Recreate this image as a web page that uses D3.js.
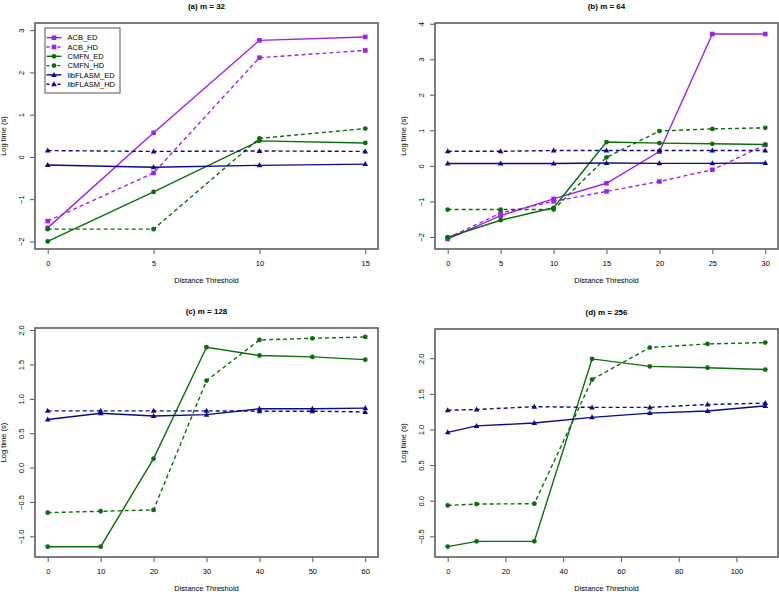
<!DOCTYPE html>
<html><head><meta charset="utf-8">
<script src="https://cdn.jsdelivr.net/npm/d3@7"></script>
<style>body{margin:0;background:#fff}svg{display:block;font-family:"Liberation Sans",Arial,sans-serif}</style>
</head><body><svg id="c" width="779" height="592"></svg>
<script>
// ---------- data ----------
const seriesNames = ["ACB_ED","ACB_HD","CMFN_ED","CMFN_HD","libFLASM_ED","libFLASM_HD"];
const panelTitles = ["(a) m = 32","(b) m = 64","(c) m = 128","(d) m = 256"];

const xA = [0,5,10,15];
const aACB_ED = [-1.68,0.57,2.76,2.84];
const aACB_HD = [-1.52,-0.38,2.35,2.52];
const aCMFN_ED = [-2.0,-0.83,0.38,0.33];
const aCMFN_HD = [-1.71,-1.71,0.44,0.67];
const aLIB_ED = [-0.19,-0.245,-0.2,-0.17];
const aLIB_HD = [0.15,0.13,0.14,0.13];

const xB = [0,5,10,15,20,25,30];
const bACB_ED = [-2.06,-1.40,-0.93,-0.49,0.40,3.71,3.71];
const bACB_HD = [-2.03,-1.33,-1.0,-0.72,-0.44,-0.11,0.59];
const bCMFN_ED = [-2.01,-1.53,-1.18,0.67,0.64,0.62,0.60];
const bCMFN_HD = [-1.23,-1.23,-1.23,0.24,0.98,1.04,1.07];
const bLIB_ED = [0.065,0.065,0.065,0.08,0.07,0.07,0.08];
const bLIB_HD = [0.41,0.41,0.43,0.43,0.43,0.43,0.43];

const xC = [0,10,20,30,40,50,60];
const cCMFN_ED = [-1.15,-1.15,0.13,1.75,1.63,1.61,1.57];
const cCMFN_HD = [-0.655,-0.635,-0.615,1.265,1.856,1.88,1.90];
const cLIB_ED = [0.70,0.79,0.75,0.77,0.855,0.855,0.865];
const cLIB_HD = [0.825,0.825,0.825,0.825,0.82,0.82,0.81];

const xD = [0,10,30,50,70,90,110];
const dCMFN_ED = [-0.644,-0.57,-0.57,1.99,1.885,1.866,1.84];
const dCMFN_HD = [-0.066,-0.047,-0.042,1.70,2.15,2.20,2.22];
const dLIB_ED = [0.96,1.05,1.09,1.17,1.23,1.26,1.33];
const dLIB_HD = [1.27,1.28,1.32,1.31,1.31,1.35,1.37];

const xTicksA = [0,5,10,15], yTicksA = [-2,-1,0,1,2,3];
const xTicksB = [0,5,10,15,20,25,30], yTicksB = [-2,-1,0,1,2,3,4];
const xTicksC = [0,10,20,30,40,50,60], yTicksC = [-1.0,-0.5,0.0,0.5,1.0,1.5,2.0];
const xTicksD = [0,20,40,60,80,100], yTicksD = [-0.5,0.0,0.5,1.0,1.5,2.0];

// ---------- styles ----------
const style = {
  ACB_ED:{color:"#a020f0",dash:null,shape:"square"},
  ACB_HD:{color:"#a020f0",dash:"4,3",shape:"square"},
  CMFN_ED:{color:"#0a6e0a",dash:null,shape:"circle"},
  CMFN_HD:{color:"#0a6e0a",dash:"4,3",shape:"circle"},
  libFLASM_ED:{color:"#0a0a8c",dash:null,shape:"triangle"},
  libFLASM_HD:{color:"#0a0a8c",dash:"4,3",shape:"triangle"}
};

const panels = [
  {title:panelTitles[0], x:xA, series:{ACB_ED:aACB_ED,ACB_HD:aACB_HD,CMFN_ED:aCMFN_ED,CMFN_HD:aCMFN_HD,libFLASM_ED:aLIB_ED,libFLASM_HD:aLIB_HD},
   xd:[-0.6,15.6], yd:[-2.18,3.17], xt:xTicksA, yt:yTicksA, yf:d=>d3.format("d")(d), box:[35,378,23,249], legend:true},
  {title:panelTitles[1], x:xB, series:{ACB_ED:bACB_ED,ACB_HD:bACB_HD,CMFN_ED:bCMFN_ED,CMFN_HD:bCMFN_HD,libFLASM_ED:bLIB_ED,libFLASM_HD:bLIB_HD},
   xd:[-1.2,31.2], yd:[-2.34,4.02], xt:xTicksB, yt:yTicksB, yf:d=>d3.format("d")(d), box:[435,778,23,249]},
  {title:panelTitles[2], x:xC, series:{CMFN_ED:cCMFN_ED,CMFN_HD:cCMFN_HD,libFLASM_ED:cLIB_ED,libFLASM_HD:cLIB_HD},
   xd:[-2.4,62.4], yd:[-1.3,2.03], xt:xTicksC, yt:yTicksC, yf:d=>d.toFixed(1), box:[35,378,328,557]},
  {title:panelTitles[3], x:xD, series:{CMFN_ED:dCMFN_ED,CMFN_HD:dCMFN_HD,libFLASM_ED:dLIB_ED,libFLASM_HD:dLIB_HD},
   xd:[-4.4,114.4], yd:[-0.79,2.41], xt:xTicksD, yt:yTicksD, yf:d=>d.toFixed(1), box:[435,778,329,557]}
];

const svg = d3.select("#c");
const fmtMinus = s => String(s).replace("-", "\u2212");

function marker(g, shape, x, y, color){
  if(shape==="square") g.append("rect").attr("x",x-2.3).attr("y",y-2.3).attr("width",4.6).attr("height",4.6).attr("fill",color);
  else if(shape==="circle") g.append("circle").attr("cx",x).attr("cy",y).attr("r",2.4).attr("fill",color);
  else g.append("path").attr("d",`M${x},${y-3}L${x+2.8},${y+2}L${x-2.8},${y+2}Z`).attr("fill",color);
}

panels.forEach(p=>{
  const [x0,x1,y0,y1] = p.box;
  const xs = d3.scaleLinear().domain(p.xd).range([x0,x1]);
  const ys = d3.scaleLinear().domain(p.yd).range([y1,y0]);
  const g = svg.append("g");

  // axes
  const xa = g.append("g").attr("transform",`translate(0,${y1})`)
    .call(d3.axisBottom(xs).tickValues(p.xt).tickSize(5).tickPadding(5).tickFormat(d=>d));
  const ya = g.append("g").attr("transform",`translate(${x0},0)`)
    .call(d3.axisLeft(ys).tickValues(p.yt).tickSize(5).tickPadding(4).tickFormat(d=>fmtMinus(p.yf(d))));
  [xa,ya].forEach(a=>{
    a.select(".domain").remove();
    a.selectAll(".tick line").attr("stroke","#555").attr("stroke-width",1);
    a.selectAll(".tick text").attr("fill","#000").attr("font-size",7.5).attr("font-family","Liberation Sans, Arial, sans-serif");
  });
  xa.selectAll(".tick text").attr("dy","0.9em");
  ya.selectAll(".tick text").attr("text-anchor","middle").attr("dy",0)
    .attr("x",null).attr("transform","translate(-11.5,0) rotate(-90)");

  // box
  g.append("rect").attr("x",x0).attr("y",y0).attr("width",x1-x0).attr("height",y1-y0)
    .attr("fill","none").attr("stroke","#6e6e6e").attr("stroke-width",1.8);

  // titles
  g.append("text").attr("x",(x0+x1)/2).attr("y",y0-14.5).attr("text-anchor","middle")
    .attr("font-size",8).attr("font-weight","bold").text(p.title);
  g.append("text").attr("x",(x0+x1)/2).attr("y",y1+33.5).attr("text-anchor","middle")
    .attr("font-size",7.5).text("Distance Threshold");
  g.append("text").attr("transform",`translate(${x0-29},${(y0+y1)/2}) rotate(-90)`).attr("text-anchor","middle")
    .attr("font-size",7.5).text("Log time (s)");

  // series
  const line = d3.line().x((d,i)=>xs(p.x[i])).y(d=>ys(d));
  Object.keys(p.series).forEach(name=>{
    const st = style[name], vals = p.series[name];
    g.append("path").datum(vals).attr("d",line).attr("fill","none").attr("stroke",st.color)
      .attr("stroke-width",1.4).attr("stroke-dasharray",st.dash);
    vals.forEach((v,i)=>marker(g,st.shape,xs(p.x[i]),ys(v),st.color));
  });

  if(p.legend){
    const lg = g.append("g");
    lg.append("rect").attr("x",45).attr("y",28).attr("width",75).attr("height",65)
      .attr("fill","#fff").attr("stroke","#6e6e6e").attr("stroke-width",1.2);
    seriesNames.forEach((n,i)=>{
      const st = style[n], yy = 37.7 + i*9.3;
      lg.append("line").attr("x1",46.5).attr("x2",61.5).attr("y1",yy).attr("y2",yy)
        .attr("stroke",st.color).attr("stroke-width",1.4).attr("stroke-dasharray",st.dash?"3,2.5":null);
      marker(lg,st.shape,54,yy,st.color);
      lg.append("text").attr("x",67.5).attr("y",yy+2.7).attr("font-size",7.5).text(n);
    });
  }
});
</script></body></html>
